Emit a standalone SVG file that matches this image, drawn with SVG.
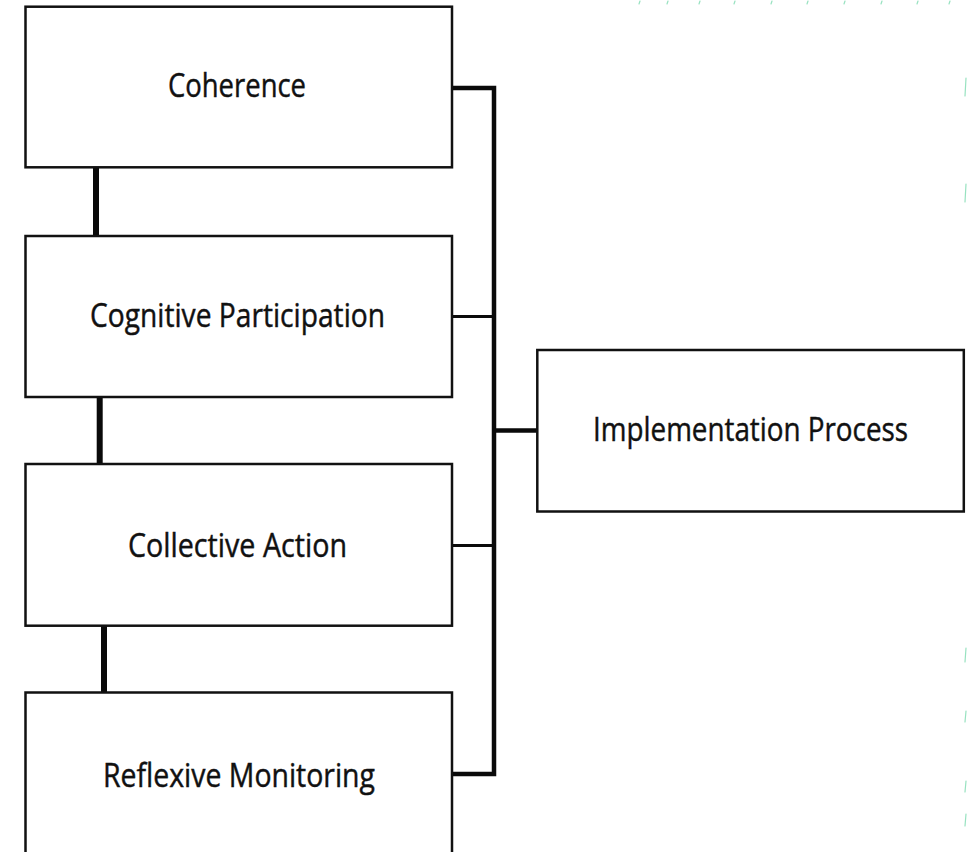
<svg xmlns="http://www.w3.org/2000/svg" width="968" height="852" viewBox="0 0 968 852">
  <style>
    .box { fill: #ffffff; stroke: #111111; stroke-width: 2.5; }
    .label { font-family: "Open Sans", "Noto Sans", "DejaVu Sans", sans-serif; font-size: 33.5px; fill: #111111; stroke: #111111; stroke-width: 0.45; text-anchor: middle; }
    .link { fill: none; stroke: #0a0a0a; stroke-linecap: butt; stroke-linejoin: miter; }
    .stack { stroke-width: 6; }
    .mark { fill: none; stroke: #7ddbb0; stroke-width: 1.2; stroke-linecap: round; opacity: 0.8; }
  </style>

  <rect x="0" y="0" width="968" height="852" fill="#ffffff"/>

  <!-- connectors -->
  <g id="connectors">
    <!-- links between stacked stages -->
    <line class="link stack" x1="96" y1="167" x2="96" y2="239"/>
    <line class="link stack" x1="99.7" y1="397" x2="99.7" y2="464"/>
    <line class="link stack" x1="104" y1="625.7" x2="104" y2="696"/>
    <!-- bus collecting the four stages -->
    <path class="link" stroke-width="4.5" d="M452,88 H494 V774 H452"/>
    <line class="link" stroke-width="3" x1="452" y1="316.5" x2="494" y2="316.5"/>
    <line class="link" stroke-width="3" x1="452" y1="545.5" x2="494" y2="545.5"/>
    <!-- bus to implementation process -->
    <line class="link" stroke-width="4.5" x1="494" y1="430.5" x2="537.3" y2="430.5"/>
  </g>

  <g id="coherence">
    <rect class="box" x="25.5" y="6.7" width="426.5" height="160.6"/>
    <text class="label" x="237" y="97" textLength="138" lengthAdjust="spacingAndGlyphs">Coherence</text>
  </g>

  <g id="cognitive-participation">
    <rect class="box" x="25.5" y="236" width="426.5" height="161"/>
    <text class="label" x="237.5" y="327" textLength="295" lengthAdjust="spacingAndGlyphs">Cognitive Participation</text>
  </g>

  <g id="collective-action">
    <rect class="box" x="25.5" y="464" width="426.5" height="161.7"/>
    <text class="label" x="237.5" y="557" textLength="219" lengthAdjust="spacingAndGlyphs">Collective Action</text>
  </g>

  <g id="reflexive-monitoring">
    <rect class="box" x="25.5" y="692.5" width="426.5" height="200"/>
    <text class="label" x="239" y="787" textLength="272" lengthAdjust="spacingAndGlyphs">Reflexive Monitoring</text>
  </g>

  <g id="implementation-process">
    <rect class="box" x="537.3" y="350" width="426.5" height="161.5"/>
    <text class="label" x="750.5" y="441" textLength="315" lengthAdjust="spacingAndGlyphs">Implementation Process</text>
  </g>

  <!-- faint edge specks -->
  <g id="edge-specks">
    <path class="mark" d="M966,78 L965,96"/>
    <path class="mark" d="M966,184 L965,202"/>
    <path class="mark" d="M966,648 L965,662"/>
    <path class="mark" d="M966,711 L965,722"/>
    <path class="mark" d="M966,781 L965,792"/>
    <path class="mark" d="M966,814 L965,826"/>
    <path class="mark" stroke="#c8d8d0" d="M640,1 L639,4 M668,1 L667,4 M700,1 L699,4 M735,1 L734,4 M772,1 L771,4 M808,1 L807,4 M845,1 L844,4 M882,1 L881,4 M918,1 L917,4 M950,1 L949,4"/>
  </g>
</svg>
